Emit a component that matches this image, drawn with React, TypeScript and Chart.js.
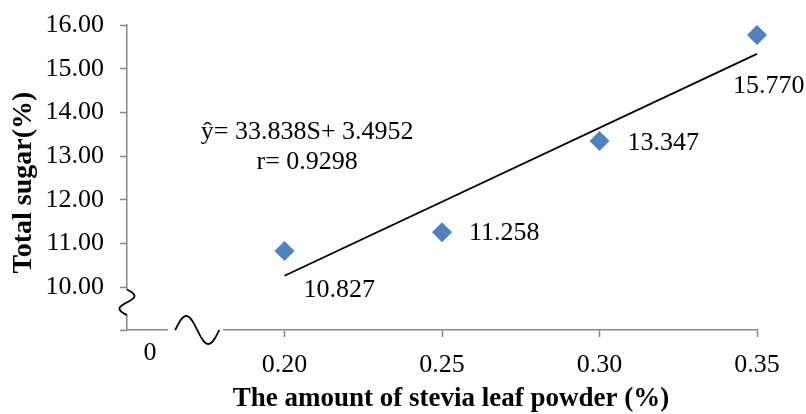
import { useEffect, useRef } from 'react';
import { Chart, registerables } from 'chart.js';

Chart.register(...registerables);

// Stevia leaf powder level (%) and measured total sugar (%)
const steviaLevels = [0.2, 0.25, 0.3, 0.35];
const totalSugar = [10.827, 11.258, 13.347, 15.77];
const valueLabels = ['10.827', '11.258', '13.347', '15.770'];

// Axis ticks
const xTickValues = [0.2, 0.25, 0.3, 0.35];
const xTickLabels = ['0.20', '0.25', '0.30', '0.35'];
const yTickValues = [10, 11, 12, 13, 14, 15, 16];

// Axis titles
const xTitle = 'The amount of stevia leaf powder (%)';
const yTitle = 'Total sugar(%)';

// Linear fit shown on the chart
const SLOPE = 33.838;
const INTERCEPT = 3.4952;
const equationLines = ['\u0177= 33.838S+ 3.4952', 'r= 0.9298'];

// Axis ranges and break marks (in axis units)
const X_MIN = 0.15;
const X_MAX = 0.35;
const Y_MIN = 9.02;
const Y_MAX = 16;
const ZERO_LABEL_AT = 0.1573;
const X_BREAK = [0.163, 0.1805];
const X_WAVE = [0.1653, 0.1793];
const Y_BREAK = [9.36, 9.9];
const EQUATION_ANCHOR = { x: 0.2072, y: 13.55 };

// Label placement around each marker: [dx, dy] in px
const labelOffsets: [number, number][] = [
  [19, 39],
  [27, 1],
  [28, 2],
  [-24, 51],
];

const SERIF = '"Liberation Serif", "Times New Roman", serif';
const AXIS_GREY = '#888888';
const MARKER_BLUE = '#4f81bd';

const annotations = {
  id: 'annotations',
  afterDraw(chart: any) {
    const { ctx } = chart;
    const xs = chart.scales.x;
    const ys = chart.scales.y;
    ctx.save();

    // value labels next to the markers
    ctx.font = `26px ${SERIF}`;
    ctx.fillStyle = '#000';
    ctx.textAlign = 'left';
    ctx.textBaseline = 'middle';
    steviaLevels.forEach((v, i) => {
      const px = xs.getPixelForValue(v);
      const py = ys.getPixelForValue(totalSugar[i]);
      const [dx, dy] = labelOffsets[i];
      ctx.fillText(valueLabels[i], px + dx, py + dy);
    });

    // regression equation
    ctx.textAlign = 'center';
    const ex = xs.getPixelForValue(EQUATION_ANCHOR.x);
    const ey = ys.getPixelForValue(EQUATION_ANCHOR.y);
    equationLines.forEach((t, i) => ctx.fillText(t, ex, ey + i * 30));

    // "0" origin label under the broken x axis
    ctx.font = `26px ${SERIF}`;
    ctx.fillText('0', xs.getPixelForValue(ZERO_LABEL_AT), xs.top + 23);

    // axis titles
    ctx.font = `bold 27px ${SERIF}`;
    ctx.fillText(xTitle, (xs.left + xs.right) / 2 + 9, xs.bottom - 15);
    ctx.save();
    ctx.translate(ys.left + 24, (ys.top + ys.bottom) / 2 + 5);
    ctx.rotate(-Math.PI / 2);
    ctx.font = `bold 28px ${SERIF}`;
    ctx.fillText(yTitle, 0, 0);
    ctx.restore();

    // x-axis break: gap + wave
    const axisY = ys.bottom;
    const gx0 = xs.getPixelForValue(X_BREAK[0]);
    const gx1 = xs.getPixelForValue(X_BREAK[1]);
    ctx.fillStyle = '#fff';
    ctx.fillRect(gx0, axisY - 3, gx1 - gx0, 6);
    const wx0 = xs.getPixelForValue(X_WAVE[0]);
    const wx1 = xs.getPixelForValue(X_WAVE[1]);
    ctx.strokeStyle = '#000';
    ctx.lineWidth = 1.8;
    ctx.beginPath();
    for (let k = 0; k <= 40; k++) {
      const t = k / 40;
      const x = wx0 + (wx1 - wx0) * t;
      const y = axisY - 14 * Math.sin(2 * Math.PI * t);
      if (k === 0) ctx.moveTo(x, y);
      else ctx.lineTo(x, y);
    }
    ctx.stroke();

    // y-axis break: gap + wave
    const axisX = xs.left;
    const by0 = ys.getPixelForValue(Y_BREAK[1]);
    const by1 = ys.getPixelForValue(Y_BREAK[0]);
    ctx.fillStyle = '#fff';
    ctx.fillRect(axisX - 3, by0 - 2, 6, by1 - by0 + 2);
    ctx.beginPath();
    for (let k = 0; k <= 40; k++) {
      const t = k / 40;
      const y = by0 - 2 + (by1 - by0 + 2) * t;
      const x = axisX + 7.5 * Math.sin(2 * Math.PI * t);
      if (k === 0) ctx.moveTo(x, y);
      else ctx.lineTo(x, y);
    }
    ctx.stroke();

    ctx.restore();
  },
};

export default function App() {
  const canvasRef = useRef<HTMLCanvasElement | null>(null);

  useEffect(() => {
    const canvas = canvasRef.current;
    if (!canvas) return;

    const fitX0 = steviaLevels[0];
    const fitX1 = steviaLevels[steviaLevels.length - 1];

    const chart = new Chart(canvas, {
      type: 'scatter',
      data: {
        datasets: [
          {
            type: 'line',
            data: [
              { x: fitX0, y: SLOPE * fitX0 + INTERCEPT },
              { x: fitX1, y: SLOPE * fitX1 + INTERCEPT },
            ],
            borderColor: '#000',
            borderWidth: 1.8,
            pointRadius: 0,
            fill: false,
            clip: false,
          },
          {
            type: 'scatter',
            data: steviaLevels.map((x, i) => ({ x, y: totalSugar[i] })),
            pointStyle: 'rectRot',
            pointRadius: 10,
            pointBackgroundColor: MARKER_BLUE,
            pointBorderWidth: 0,
            pointBorderColor: MARKER_BLUE,
            clip: false,
          },
        ],
      },
      options: {
        responsive: false,
        animation: false,
        events: [],
        layout: { padding: { top: 25, right: 49, left: 0, bottom: 0 } },
        plugins: {
          legend: { display: false },
          tooltip: { enabled: false },
        },
        scales: {
          x: {
            type: 'linear',
            min: X_MIN,
            max: X_MAX,
            afterBuildTicks: (s: any) => {
              s.ticks = xTickValues.map((v) => ({ value: v }));
            },
            afterFit: (s: any) => {
              s.height = 84;
              s.paddingLeft = 0;
              s.paddingRight = 0;
            },
            ticks: {
              autoSkip: false,
              maxRotation: 0,
              padding: 13,
              color: '#000',
              font: { family: SERIF, size: 26 },
              callback: (v: any) => {
                const i = xTickValues.findIndex((t) => Math.abs(t - v) < 1e-9);
                return i >= 0 ? xTickLabels[i] : '';
              },
            },
            grid: {
              drawOnChartArea: false,
              drawTicks: true,
              tickLength: 7,
              tickColor: AXIS_GREY,
              tickWidth: 1.5,
            },
            border: { display: true, color: AXIS_GREY, width: 1.5 },
          },
          y: {
            type: 'linear',
            min: Y_MIN,
            max: Y_MAX,
            afterBuildTicks: (s: any) => {
              s.ticks = [Y_MIN, ...yTickValues].map((v) => ({ value: v }));
            },
            afterFit: (s: any) => {
              s.width = 127;
              s.paddingTop = 0;
              s.paddingBottom = 0;
            },
            ticks: {
              autoSkip: false,
              padding: 16,
              color: '#000',
              font: { family: SERIF, size: 26 },
              callback: (v: any) => (Math.abs(v - Y_MIN) < 1e-9 ? '' : Number(v).toFixed(2)),
            },
            grid: {
              drawOnChartArea: false,
              drawTicks: true,
              tickLength: 7,
              tickColor: AXIS_GREY,
              tickWidth: 1.5,
            },
            border: { display: true, color: AXIS_GREY, width: 1.5 },
          },
        },
      },
      plugins: [annotations],
    });

    return () => chart.destroy();
  }, []);

  return (
    <div style={{ position: 'absolute', left: 0, top: 0, width: 806, height: 414, background: '#fff' }}>
      <canvas ref={canvasRef} width={806} height={414} style={{ display: 'block' }} />
    </div>
  );
}
